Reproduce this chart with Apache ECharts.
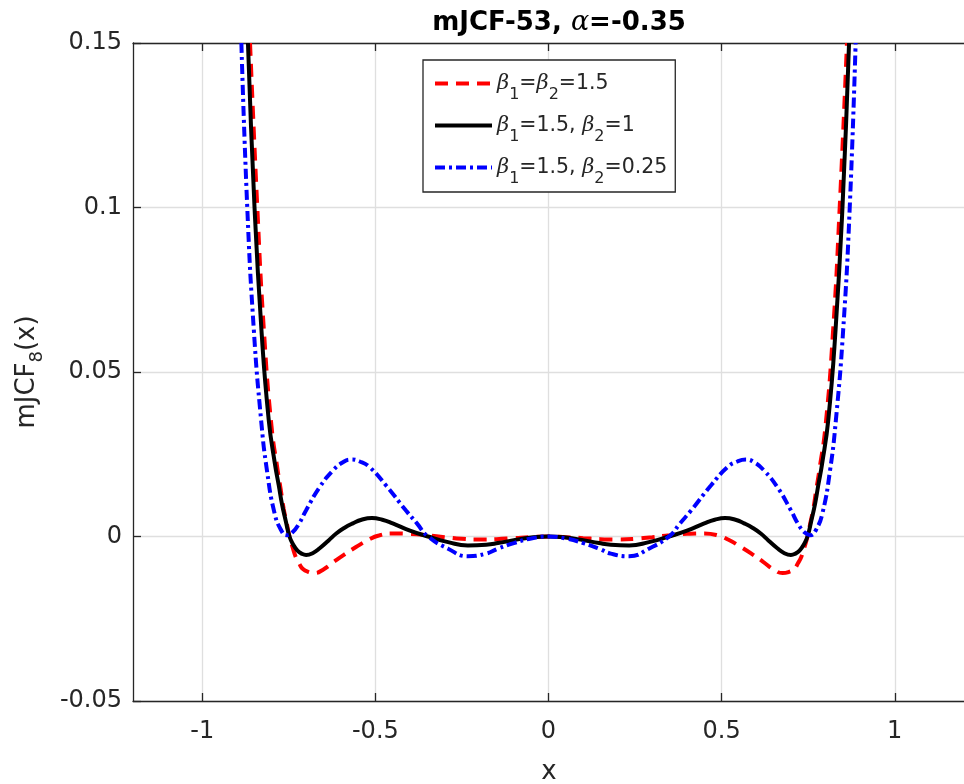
<!DOCTYPE html>
<html><head><meta charset="utf-8">
<script src="https://cdn.jsdelivr.net/npm/echarts@6/dist/echarts.min.js"></script>
<style>html,body{margin:0;padding:0;background:#fff}#c{width:964px;height:784px}</style>
</head><body><div id="c"></div>
<script>
// ---- tick data ----
const xTicks = [-1, -0.5, 0, 0.5, 1];
const xTickLabels = ['-1', '-0.5', '0', '0.5', '1'];
const yTicks = [-0.05, 0, 0.05, 0.1, 0.15];
const yTickLabels = ['-0.05', '0', '0.05', '0.1', '0.15'];

// ---- series names ----
const seriesNames = ['b1=b2=1.5', 'b1=1.5, b2=1', 'b1=1.5, b2=0.25'];

// ---- red dashed: beta1 = beta2 = 1.5 ----
const xRed = [-0.862, -0.841, -0.822, -0.800, -0.782, -0.773, -0.765, -0.756, -0.748, -0.739, -0.730, -0.720, -0.710, -0.693, -0.676, -0.650, -0.620, -0.590, -0.556, -0.520, -0.490, -0.450, -0.400, -0.350, -0.300, -0.250, -0.200, -0.150, -0.100, -0.050, 0,
  0.050, 0.100, 0.150, 0.200, 0.250, 0.300, 0.350, 0.400, 0.450, 0.490, 0.520, 0.556, 0.590, 0.620, 0.650, 0.676, 0.693, 0.710, 0.720, 0.730, 0.739, 0.748, 0.756, 0.765, 0.773, 0.782, 0.800, 0.822, 0.841, 0.862];
const yRed = [0.150, 0.100, 0.0627, 0.0335, 0.0200, 0.0140, 0.0085, 0.0040, 0.0000, -0.0033, -0.0062, -0.0082, -0.0098, -0.0108, -0.0111, -0.0100, -0.0077, -0.0055, -0.0032, -0.0010, 0.0003, 0.0009, 0.0008, 0.0004, -0.0002, -0.0007, -0.0009, -0.0008, -0.0005, -0.0002, 0,
  -0.0002, -0.0005, -0.0008, -0.0009, -0.0007, -0.0002, 0.0004, 0.0008, 0.0009, 0.0003, -0.0010, -0.0032, -0.0055, -0.0077, -0.0100, -0.0111, -0.0108, -0.0098, -0.0082, -0.0062, -0.0033, 0.0000, 0.0040, 0.0085, 0.0140, 0.0200, 0.0335, 0.0627, 0.100, 0.150];

// ---- black solid: beta1 = 1.5, beta2 = 1 ----
const xBlack = [-0.868, -0.849, -0.829, -0.808, -0.790, -0.779, -0.770, -0.759, -0.748, -0.737, -0.725, -0.713, -0.700, -0.680, -0.660, -0.635, -0.613, -0.590, -0.565, -0.540, -0.510, -0.480, -0.450, -0.400, -0.348, -0.290, -0.233, -0.180, -0.146, -0.100, -0.050, 0,
  0.050, 0.100, 0.146, 0.180, 0.233, 0.290, 0.348, 0.400, 0.450, 0.480, 0.510, 0.540, 0.565, 0.590, 0.613, 0.635, 0.660, 0.680, 0.700, 0.713, 0.725, 0.737, 0.748, 0.759, 0.770, 0.779, 0.790, 0.808, 0.829, 0.849, 0.868];
const yBlack = [0.150, 0.100, 0.0627, 0.0354, 0.0220, 0.0155, 0.0100, 0.0048, 0.0000, -0.0025, -0.0043, -0.0052, -0.0056, -0.0050, -0.0035, -0.0012, 0.0009, 0.0026, 0.0040, 0.0051, 0.0056, 0.0051, 0.0040, 0.0018, 0.0000, -0.0017, -0.0027, -0.0025, -0.0020, -0.0011, -0.0003, 0,
  -0.0003, -0.0011, -0.0020, -0.0025, -0.0027, -0.0017, 0.0000, 0.0018, 0.0040, 0.0051, 0.0056, 0.0051, 0.0040, 0.0026, 0.0009, -0.0012, -0.0035, -0.0050, -0.0056, -0.0052, -0.0043, -0.0025, 0.0000, 0.0048, 0.0100, 0.0155, 0.0220, 0.0354, 0.0627, 0.100, 0.150];

// ---- blue dash-dot: beta1 = 1.5, beta2 = 0.25 ----
const xBlue = [-0.887, -0.870, -0.851, -0.830, -0.813, -0.791, -0.772, -0.757, -0.740, -0.720, -0.700, -0.661, -0.623, -0.595, -0.570, -0.545, -0.517, -0.469, -0.411, -0.380, -0.350, -0.290, -0.233, -0.180, -0.146, -0.100, -0.050, 0,
  0.050, 0.100, 0.146, 0.180, 0.233, 0.290, 0.350, 0.380, 0.411, 0.469, 0.517, 0.545, 0.570, 0.595, 0.623, 0.661, 0.700, 0.720, 0.740, 0.757, 0.772, 0.791, 0.813, 0.830, 0.851, 0.870, 0.887];
const yBlue = [0.150, 0.100, 0.0627, 0.0354, 0.0200, 0.0070, 0.0019, 0.0004, 0.0012, 0.0040, 0.0080, 0.0150, 0.0200, 0.0225, 0.0234, 0.0228, 0.0211, 0.0155, 0.0078, 0.0040, 0.0002, -0.0037, -0.0060, -0.0052, -0.0037, -0.0020, -0.0006, 0,
  -0.0006, -0.0020, -0.0037, -0.0052, -0.0060, -0.0037, 0.0002, 0.0040, 0.0078, 0.0155, 0.0211, 0.0228, 0.0234, 0.0225, 0.0200, 0.0150, 0.0080, 0.0040, 0.0012, 0.0004, 0.0019, 0.0070, 0.0200, 0.0354, 0.0627, 0.100, 0.150];

const pairs = (xs, ys) => xs.map((x, i) => [x, ys[i]]);
const tickLabel = (ticks, labels) => v => {
  const i = ticks.findIndex(t => Math.abs(t - v) < 1e-9);
  return i >= 0 ? labels[i] : '';
};

const AX = '#262626';
const FONT = "'DejaVu Sans', 'Liberation Sans', sans-serif";
const SERIF = "'DejaVu Serif', 'Liberation Serif', serif";

const legendRich = {
  n: { fontFamily: FONT, fontSize: 20.5, color: AX, lineHeight: 39, verticalAlign: 'middle' },
  g: { fontFamily: SERIF, fontStyle: 'italic', fontSize: 21, color: AX, lineHeight: 39, verticalAlign: 'middle' },
  s: { fontFamily: FONT, fontSize: 16, color: AX, lineHeight: 16, padding: [23, 0, 0, 0], verticalAlign: 'top' }
};
const legendText = {
  'b1=b2=1.5': '{g|β}{s|1}{n|=}{g|β}{s|2}{n|=1.5}',
  'b1=1.5, b2=1': '{g|β}{s|1}{n|=1.5, }{g|β}{s|2}{n|=1}',
  'b1=1.5, b2=0.25': '{g|β}{s|1}{n|=1.5, }{g|β}{s|2}{n|=0.25}'
};

const chart = echarts.init(document.getElementById('c'), null, { renderer: 'canvas' });
const option = {
  backgroundColor: '#fff',
  animation: false,
  grid: { left: 133, top: 43, width: 832, height: 658, containLabel: false },
  xAxis: [{
    type: 'value', min: -1.2, max: 1.2, position: 'bottom',
    axisLine: { show: true, onZero: false, lineStyle: { color: AX, width: 1.3 } },
    axisTick: { show: true, inside: true, length: 8, customValues: xTicks, lineStyle: { color: AX, width: 1.3 } },
    axisLabel: { customValues: xTicks, formatter: tickLabel(xTicks, xTickLabels), color: AX, fontFamily: FONT, fontSize: 24, margin: 19 },
    splitLine: { show: true, lineStyle: { color: '#dfdfdf', width: 1.3 } }
  }, {
    type: 'value', min: -1.2, max: 1.2, position: 'top',
    axisLine: { show: true, onZero: false, lineStyle: { color: AX, width: 1.3 } },
    axisTick: { show: true, inside: true, length: 8, customValues: xTicks, lineStyle: { color: AX, width: 1.3 } },
    axisLabel: { show: false },
    splitLine: { show: false }
  }],
  yAxis: [{
    type: 'value', min: -0.05, max: 0.15, interval: 0.05,
    axisLine: { show: true, onZero: false, lineStyle: { color: AX, width: 1.3 } },
    axisTick: { show: true, inside: true, length: 8, lineStyle: { color: AX, width: 1.3 } },
    axisLabel: { formatter: tickLabel(yTicks, yTickLabels), color: AX, fontFamily: FONT, fontSize: 24, margin: 11 },
    splitLine: { show: true, lineStyle: { color: '#dfdfdf', width: 1.3 } }
  }],
  legend: {
    orient: 'vertical', left: 423, top: 60,
    itemWidth: 57, itemHeight: 20, itemGap: 3,
    padding: [4, 8, 5, 10],
    borderColor: AX, borderWidth: 1.3, backgroundColor: '#fff',
    selectedMode: false,
    itemStyle: { opacity: 0 },
    lineStyle: { width: 4 },
    data: seriesNames,
    formatter: name => legendText[name],
    textStyle: { rich: legendRich }
  },
  series: [{
    name: seriesNames[0], type: 'line', data: pairs(xRed, yRed), smooth: 0.5,
    symbol: 'none', showSymbol: false, clip: true,
    lineStyle: { color: '#ff0000', width: 4, type: [13, 8] }, itemStyle: { color: '#ff0000' }
  }, {
    name: seriesNames[1], type: 'line', data: pairs(xBlack, yBlack), smooth: 0.5,
    symbol: 'none', showSymbol: false, clip: true,
    lineStyle: { color: '#000000', width: 4, type: 'solid' }, itemStyle: { color: '#000000' }
  }, {
    name: seriesNames[2], type: 'line', data: pairs(xBlue, yBlue), smooth: 0.5,
    symbol: 'none', showSymbol: false, clip: true,
    lineStyle: { color: '#0000ff', width: 4, type: [10, 4, 3, 4] }, itemStyle: { color: '#0000ff' }
  }],
  graphic: [{
    type: 'text', x: 559, y: 23,
    style: {
      text: '{b|mJCF-53, }{a|α}{b|=-0.35}', align: 'center', verticalAlign: 'middle',
      rich: {
        b: { fontFamily: FONT, fontWeight: 'bold', fontSize: 26, fill: '#000' },
        a: { fontFamily: SERIF, fontStyle: 'italic', fontSize: 27, fill: '#000' }
      }
    }
  }, {
    type: 'text', x: 549, y: 772,
    style: { text: 'x', fontFamily: FONT, fontSize: 26, fill: AX, align: 'center', verticalAlign: 'middle' }
  }, {
    type: 'text', x: 27, y: 372, rotation: Math.PI / 2,
    style: {
      text: '{m|mJCF}{s|8}{m|(x)}', align: 'center', verticalAlign: 'middle',
      rich: {
        m: { fontFamily: FONT, fontSize: 26, fill: AX, lineHeight: 40, verticalAlign: 'middle' },
        s: { fontFamily: FONT, fontSize: 18, fill: AX, lineHeight: 18, padding: [21, 0, 0, 0], verticalAlign: 'top' }
      }
    }
  }]
};
chart.setOption(option);
</script>
</body></html>
